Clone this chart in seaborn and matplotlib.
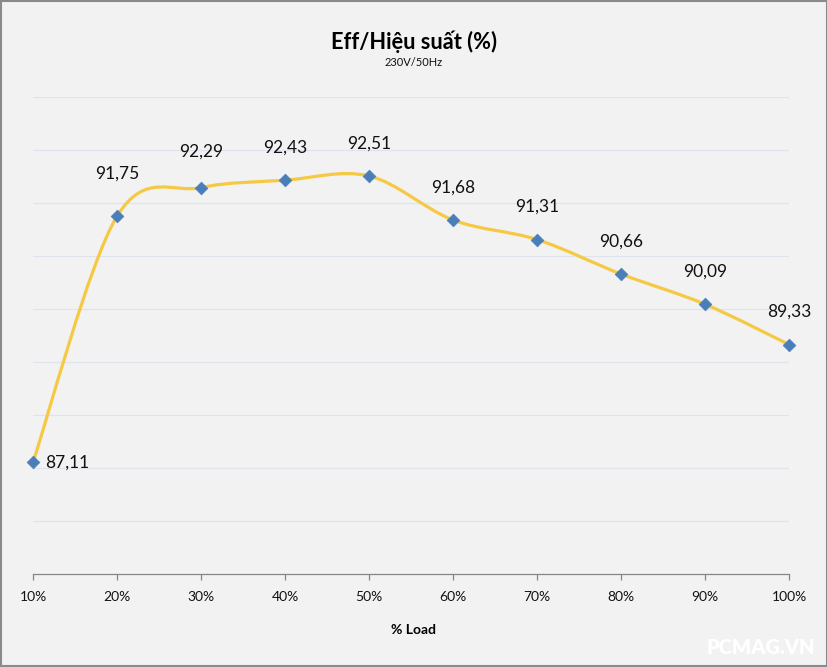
import numpy as np
import matplotlib
matplotlib.use("Agg")
import matplotlib.pyplot as plt
from matplotlib.path import Path
from matplotlib.patches import PathPatch, Rectangle
import seaborn as sns
import pandas as pd

# ---- data ----
load_labels = ["10%", "20%", "30%", "40%", "50%", "60%", "70%", "80%", "90%", "100%"]
efficiency = [87.11, 91.75, 92.29, 92.43, 92.51, 91.68, 91.31, 90.66, 90.09, 89.33]
value_labels = ["87,11", "91,75", "92,29", "92,43", "92,51", "91,68", "91,31", "90,66", "90,09", "89,33"]
title = "Eff/Hiệu suất (%)"
subtitle = "230V/50Hz"
xlabel = "% Load"
watermark = "PCMAG.VN"

sns.set_theme(style="white")
plt.rcParams["font.family"] = ["Lato", "DejaVu Sans"]

BG = "#f2f2f2"
fig = plt.figure(figsize=(8.28, 6.67), dpi=100, facecolor=BG)
ax = fig.add_axes([33 / 828, 1 - 574 / 667, (789 - 33) / 828, (574 - 97) / 667])
ax.set_facecolor(BG)

df = pd.DataFrame({"x": np.arange(len(efficiency)), "y": efficiency, "lab": load_labels})

# smooth (Excel-like Catmull-Rom) curve through the data points
xs = df["x"].to_numpy(dtype=float)
ys = df["y"].to_numpy(dtype=float)
P = np.column_stack([xs, ys])
Pext = np.vstack([P[0], P, P[-1]])
verts = [tuple(P[0])]
codes = [Path.MOVETO]
for i in range(len(P) - 1):
    p0, p1, p2, p3 = Pext[i], Pext[i + 1], Pext[i + 2], Pext[i + 3]
    c1 = p1 + (p2 - p0) / 6.0
    c2 = p2 - (p3 - p1) / 6.0
    verts += [tuple(c1), tuple(c2), tuple(p2)]
    codes += [Path.CURVE4] * 3
patch = PathPatch(Path(verts, codes), facecolor="none", edgecolor="#f6c944",
                  lw=2.3, capstyle="round", joinstyle="round", zorder=3, clip_on=False)
ax.add_patch(patch)

sns.scatterplot(data=df, x="x", y="y", marker="D", s=42, color="#4a7ebb",
                edgecolor="#4a7ebb", linewidth=0.5, zorder=4, clip_on=False, ax=ax, legend=False)

# data labels
for i, (xv, yv, t) in enumerate(zip(xs, ys, value_labels)):
    if i == 0:
        ax.annotate(t, (xv, yv), xytext=(9, 0), textcoords="offset points",
                    ha="left", va="center", fontsize=12.5, color="#111111")
    else:
        off = 31 if i == 1 else (26 if i == 2 else 23.5)
        ax.annotate(t, (xv, yv), xytext=(0, off), textcoords="offset points",
                    ha="center", va="center", fontsize=12.5, color="#111111")

ax.set_xlim(0, len(efficiency) - 1)
ax.set_ylim(85, 94)
ax.set_yticks(np.arange(86, 95, 1))
ax.yaxis.grid(True, color="#dfe4ec", lw=0.9)
ax.set_axisbelow(True)
ax.tick_params(axis="y", left=False, labelleft=False)
ax.set_xticks(xs)
ax.set_xticklabels(load_labels, fontsize=10, color="#111111")
ax.tick_params(axis="x", bottom=True, direction="out", length=4, width=0.9,
               color="#868686", pad=8)
for s in ["top", "right", "left"]:
    ax.spines[s].set_visible(False)
ax.spines["bottom"].set_color("#868686")
ax.spines["bottom"].set_linewidth(0.9)
ax.set_xlabel("")
ax.set_ylabel("")

fig.text(0.5, 1 - 42 / 667, title, ha="center", va="center", fontsize=15.7,
         fontweight="bold", color="#000000")
fig.text(0.5, 1 - 63 / 667, subtitle, ha="center", va="center", fontsize=8, color="#111111")
fig.text(0.5, 1 - 630 / 667, xlabel, ha="center", va="center", fontsize=10,
         fontweight="bold", color="#000000")
fig.text(815 / 828, 1 - 647 / 667, watermark, ha="right", va="center", fontsize=14.5,
         fontweight="heavy", color="#ffffff")

fig.patches.append(Rectangle((0.001, 0.001), 0.998, 0.997, transform=fig.transFigure,
                             facecolor="none", edgecolor="#8a8a8a", lw=1.5))

fig.savefig("out.png", dpi=100, facecolor=BG)
